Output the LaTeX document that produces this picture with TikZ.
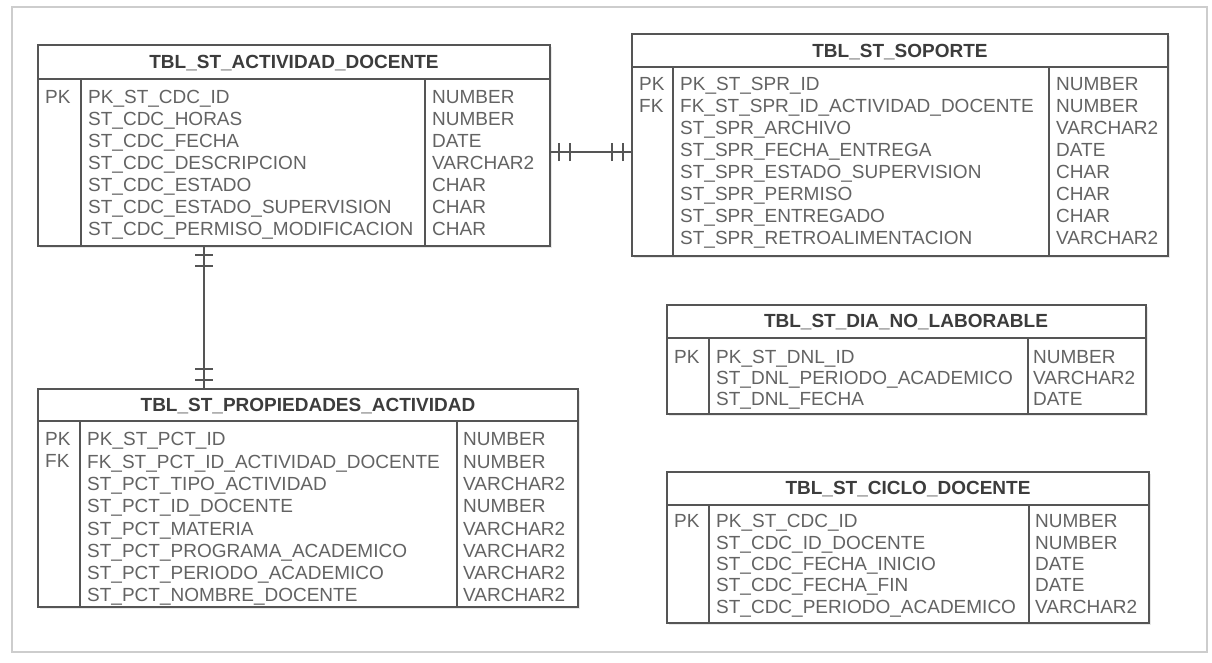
\documentclass[tikz,border=0pt]{standalone}
\usepackage{fontspec}
\setmainfont{Liberation Sans}
\usepackage{xcolor}
\usepackage{tikz}
\usetikzlibrary{positioning, decorations.markings, shadows}
\definecolor{erline}{RGB}{85,85,85}
\definecolor{ertext}{RGB}{60,60,60}
\definecolor{erframe}{RGB}{205,205,205}

\tikzset{
  tbl/.style={draw=erline, line width=1.4pt, rectangle, inner sep=0pt, outer sep=0pt,
    anchor=north west, fill=white,
    drop shadow={shadow xshift=2pt, shadow yshift=-2pt, opacity=0.18}},
  tline/.style={draw=erline, line width=1.2pt},
  tname/.style={font=\fontsize{19}{22}\selectfont\bfseries, text=ertext, inner sep=0pt,
    text height=13.6pt, text depth=0pt},
  cell/.style={font=\fontsize{19}{22}\selectfont, text=ertext!80, anchor=west, inner sep=0pt,
    text height=13.6pt, text depth=0pt},
  onebar/.style={draw=erline, line width=1.2pt},
  onlyone/.style={draw=erline, line width=1.4pt, postaction={decorate},
    decoration={markings,
      mark=at position 9pt with {\draw[onebar] (0,-9pt) -- (0,9pt);},
      mark=at position 20pt with {\draw[onebar] (0,-9pt) -- (0,9pt);},
      mark=at position -9pt with {\draw[onebar] (0,-9pt) -- (0,9pt);},
      mark=at position -20pt with {\draw[onebar] (0,-9pt) -- (0,9pt);}}}
}

\begin{document}
\begin{tikzpicture}[x=1pt, y=-1pt]
  \useasboundingbox (0,0) rectangle (1212,662);
  \draw[erframe, line width=1.5pt] (12,7) rectangle (1207,652);

  % TBL_ST_ACTIVIDAD_DOCENTE
  \node[tbl, minimum width=512pt, minimum height=201pt] (act) at (38,45) {};
  \draw[tline] (38,79) -- (550,79);
  \draw[tline] (81,79) -- (81,246);
  \draw[tline] (425,79) -- (425,246);
  \node[tname] (act-name) at (294,62) {TBL\_ST\_ACTIVIDAD\_DOCENTE};
  \node[cell] (act-k0) at (45,97) {PK};
  \foreach \fld/\typ [count=\i from 0] in {PK\_ST\_CDC\_ID/NUMBER, ST\_CDC\_HORAS/NUMBER,
      ST\_CDC\_FECHA/DATE, ST\_CDC\_DESCRIPCION/VARCHAR2, ST\_CDC\_ESTADO/CHAR,
      ST\_CDC\_ESTADO\_SUPERVISION/CHAR, ST\_CDC\_PERMISO\_MODIFICACION/CHAR} {
    \node[cell] (act-f\i) at (88,{97+22*\i}) {\fld};
    \node[cell] (act-t\i) at (432,{97+22*\i}) {\typ};
  }

  % TBL_ST_SOPORTE
  \node[tbl, minimum width=536pt, minimum height=222pt] (sop) at (632,34) {};
  \draw[tline] (632,67) -- (1168,67);
  \draw[tline] (673,67) -- (673,256);
  \draw[tline] (1049,67) -- (1049,256);
  \node[tname] (sop-name) at (900,51) {TBL\_ST\_SOPORTE};
  \node[cell] (sop-k0) at (639,84) {PK};
  \node[cell] (sop-k1) at (639,106) {FK};
  \foreach \fld/\typ [count=\i from 0] in {PK\_ST\_SPR\_ID/NUMBER,
      FK\_ST\_SPR\_ID\_ACTIVIDAD\_DOCENTE/NUMBER, ST\_SPR\_ARCHIVO/VARCHAR2,
      ST\_SPR\_FECHA\_ENTREGA/DATE, ST\_SPR\_ESTADO\_SUPERVISION/CHAR,
      ST\_SPR\_PERMISO/CHAR, ST\_SPR\_ENTREGADO/CHAR,
      ST\_SPR\_RETROALIMENTACION/VARCHAR2} {
    \node[cell] (sop-f\i) at (680,{84+22*\i}) {\fld};
    \node[cell] (sop-t\i) at (1056,{84+22*\i}) {\typ};
  }

  % TBL_ST_PROPIEDADES_ACTIVIDAD
  \node[tbl, minimum width=540pt, minimum height=218pt] (prop) at (38,389) {};
  \draw[tline] (38,421) -- (578,421);
  \draw[tline] (80,421) -- (80,607);
  \draw[tline] (457,421) -- (457,607);
  \node[tname] (prop-name) at (308,405) {TBL\_ST\_PROPIEDADES\_ACTIVIDAD};
  \node[cell] (prop-k0) at (45,439) {PK};
  \node[cell] (prop-k1) at (45,461) {FK};
  \foreach \fld/\typ [count=\i from 0] in {PK\_ST\_PCT\_ID/NUMBER,
      FK\_ST\_PCT\_ID\_ACTIVIDAD\_DOCENTE/NUMBER, ST\_PCT\_TIPO\_ACTIVIDAD/VARCHAR2,
      ST\_PCT\_ID\_DOCENTE/NUMBER, ST\_PCT\_MATERIA/VARCHAR2,
      ST\_PCT\_PROGRAMA\_ACADEMICO/VARCHAR2, ST\_PCT\_PERIODO\_ACADEMICO/VARCHAR2,
      ST\_PCT\_NOMBRE\_DOCENTE/VARCHAR2} {
    \node[cell] (prop-f\i) at (87,{439+22.3*\i}) {\fld};
    \node[cell] (prop-t\i) at (463,{439+22.3*\i}) {\typ};
  }

  % TBL_ST_DIA_NO_LABORABLE
  \node[tbl, minimum width=479pt, minimum height=109pt] (dnl) at (667,305) {};
  \draw[tline] (667,338) -- (1146,338);
  \draw[tline] (709,338) -- (709,414);
  \draw[tline] (1028,338) -- (1028,414);
  \node[tname] (dnl-name) at (906,321) {TBL\_ST\_DIA\_NO\_LABORABLE};
  \node[cell] (dnl-k0) at (674,357) {PK};
  \foreach \fld/\typ [count=\i from 0] in {PK\_ST\_DNL\_ID/NUMBER,
      ST\_DNL\_PERIODO\_ACADEMICO/VARCHAR2, ST\_DNL\_FECHA/DATE} {
    \node[cell] (dnl-f\i) at (716,{357+20.7*\i}) {\fld};
    \node[cell] (dnl-t\i) at (1033,{357+20.7*\i}) {\typ};
  }

  % TBL_ST_CICLO_DOCENTE
  \node[tbl, minimum width=482pt, minimum height=151pt] (cic) at (667,472) {};
  \draw[tline] (667,505) -- (1149,505);
  \draw[tline] (709,505) -- (709,623);
  \draw[tline] (1029,505) -- (1029,623);
  \node[tname] (cic-name) at (908,488) {TBL\_ST\_CICLO\_DOCENTE};
  \node[cell] (cic-k0) at (674,521) {PK};
  \foreach \fld/\typ [count=\i from 0] in {PK\_ST\_CDC\_ID/NUMBER,
      ST\_CDC\_ID\_DOCENTE/NUMBER, ST\_CDC\_FECHA\_INICIO/DATE,
      ST\_CDC\_FECHA\_FIN/DATE, ST\_CDC\_PERIODO\_ACADEMICO/VARCHAR2} {
    \node[cell] (cic-f\i) at (716,{521+21.3*\i}) {\fld};
    \node[cell] (cic-t\i) at (1035,{521+21.3*\i}) {\typ};
  }

  % relaciones
  \draw[onlyone] (act.east |- 0,152) -- (sop.west |- 0,152);
  \draw[onlyone] (act.south -| 204,0) -- (prop.north -| 204,0);
\end{tikzpicture}
\end{document}
